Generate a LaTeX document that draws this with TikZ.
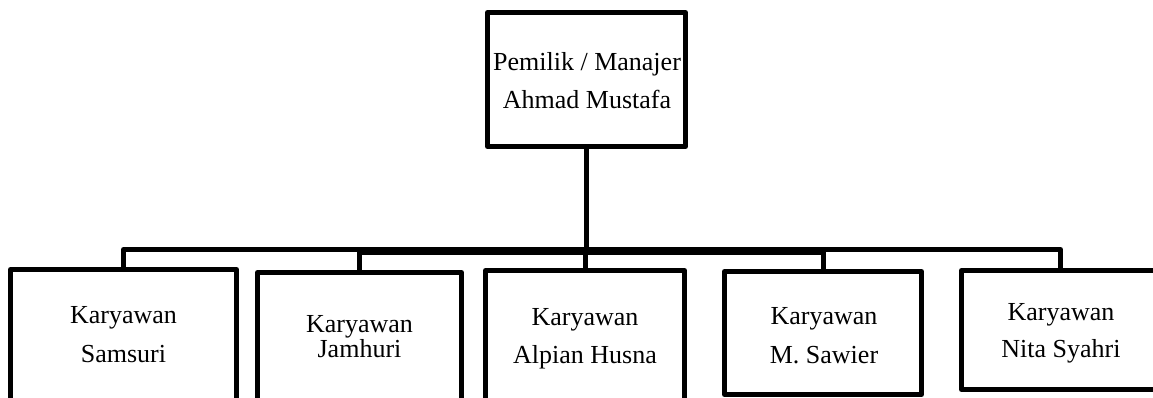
\documentclass[tikz,border=0pt]{standalone}
\usepackage{fontspec}
\setmainfont{Liberation Serif}
\begin{document}
\begin{tikzpicture}[x=1pt,y=-1pt,
  box/.style={draw=black,line width=5pt,rectangle,inner sep=0pt,line join=round},
  conn/.style={draw=black,line width=5pt,line join=round},
  txt/.style={anchor=base,inner sep=0pt,font=\fontsize{26}{30}\selectfont}]
\useasboundingbox (0,0) rectangle (1153,397);
\clip (0,0) rectangle (1153,397);
% boxes
\node[box,minimum width=198pt,minimum height=134pt] (top) at (586.5,79.5) {};
\node[box,minimum width=226pt,minimum height=160pt] (sam) at (123.5,349.5) {};
\node[box,minimum width=204pt,minimum height=160pt] (jam) at (359.5,352.5) {};
\node[box,minimum width=199pt,minimum height=160pt] (alp) at (585,350.5) {};
\node[box,minimum width=197pt,minimum height=123pt] (saw) at (823,333) {};
\node[box,minimum width=198pt,minimum height=119pt] (nit) at (1060.5,330) {};
% texts
\node[txt] (t1a) at (587,70) {Pemilik / Manajer};
\node[txt] (t1b) at (587,108) {Ahmad Mustafa};
\node[txt] (t2a) at (123.5,323) {Karyawan};
\node[txt] (t2b) at (123.5,362) {Samsuri};
\node[txt] (t3a) at (359.5,332) {Karyawan};
\node[txt] (t3b) at (359.5,357) {Jamhuri};
\node[txt] (t4a) at (585,325) {Karyawan};
\node[txt] (t4b) at (585,363) {Alpian Husna};
\node[txt] (t5a) at (824,324) {Karyawan};
\node[txt] (t5b) at (824,363) {M. Sawier};
\node[txt] (t6a) at (1061,320) {Karyawan};
\node[txt] (t6b) at (1061,357) {Nita Syahri};
% connectors
\coordinate (bar) at (586.5,249.5);
\coordinate (bar2) at (586.5,252);
\draw[conn] (top.south) -- (bar);
\draw[conn] (sam.north) |- (bar) -| (nit.north);
\draw[conn] (jam.north) |- (bar2) -| (saw.north);
\draw[conn] (alp.north) -- (alp.north |- bar);
\end{tikzpicture}
\end{document}
